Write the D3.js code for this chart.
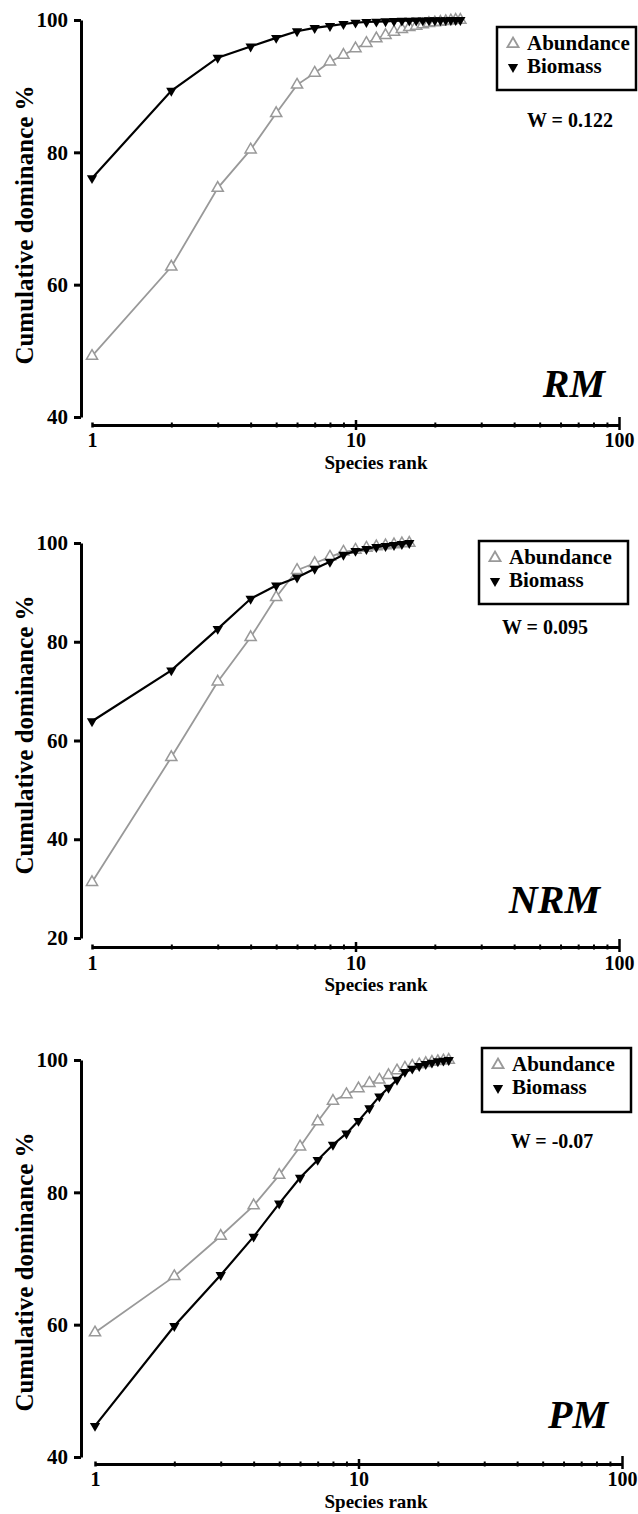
<!DOCTYPE html>
<html>
<head>
<meta charset="utf-8">
<script src="https://cdn.jsdelivr.net/npm/d3@7"></script>
<style>
  body { margin: 0; background: #fff; }
  svg { display: block; font-weight: bold; }
</style>
</head>
<body>
<svg id="chart" width="638" height="1514" font-family="'Liberation Serif', 'Times New Roman', serif"></svg>
<script>
  // cumulative dominance (%) by species rank
  const rmAbundance = [49.2, 62.7, 74.6, 80.4, 85.9, 90.2, 92.0, 93.7, 94.7, 95.7, 96.5, 97.2, 97.7,
                       98.2, 98.6, 98.9, 99.1, 99.3, 99.5, 99.6, 99.7, 99.8, 99.9, 100, 100];
  const rmBiomass = [76.1, 89.3, 94.3, 96.0, 97.3, 98.3, 98.8, 99.1, 99.4, 99.6, 99.7, 99.75, 99.8,
                     99.85, 99.9, 99.9, 99.92, 99.94, 99.95, 99.96, 99.97, 99.98, 99.99, 100, 100];

  const nrmAbundance = [31.3, 56.6, 71.9, 80.9, 89.0, 94.5, 95.9, 97.2, 98.2, 98.6, 99.0, 99.3, 99.5, 99.7, 99.9, 100];
  const nrmBiomass = [63.9, 74.2, 82.6, 88.7, 91.4, 93.0, 94.8, 96.2, 97.6, 98.4, 98.8, 99.2, 99.4, 99.6, 99.8, 100];

  const pmAbundance = [58.8, 67.3, 73.4, 78.0, 82.6, 86.9, 90.7, 93.8, 94.8, 95.7, 96.5, 97.0, 97.7,
                       98.4, 98.8, 99.1, 99.3, 99.5, 99.7, 99.8, 99.9, 100];
  const pmBiomass = [44.7, 59.8, 67.5, 73.3, 78.3, 82.2, 84.9, 87.2, 88.9, 90.8, 92.7, 94.5, 95.8,
                     97.0, 98.2, 98.7, 99.1, 99.4, 99.6, 99.8, 99.9, 100];

  const siteNames = ["RM", "NRM", "PM"];
  const wValues = ["W = 0.122", "W = 0.095", "W = -0.07"];
  const yMins = [40, 20, 40];
  const xTicks = [1, 2, 3, 4, 5, 6, 7, 8, 9, 10, 20, 30, 40, 50, 60, 70, 80, 90, 100];
  const xLabels = [1, 10, 100];

  // layout of each panel on the page
  const layout = [
    {top: 20, bottom: 417, axisY: 425, x0: 92, x1: 619, yAxisX: 81, box: [497, 27, 139, 63],
     w: [570, 127], label: [605, 397], titleY: 225, tickDy: 22, titleDy: 44},
    {top: 543, bottom: 938, axisY: 947, x0: 92, x1: 619, yAxisX: 81, box: [479, 541, 149, 63],
     w: [545, 634], label: [600, 913], titleY: 735, tickDy: 23, titleDy: 44},
    {top: 1060, bottom: 1457, axisY: 1464, x0: 95, x1: 622, yAxisX: 81, box: [482, 1048, 149, 64],
     w: [552, 1148], label: [608, 1428], titleY: 1272, tickDy: 22, titleDy: 44}
  ];
  const series = [[rmAbundance, rmBiomass], [nrmAbundance, nrmBiomass], [pmAbundance, pmBiomass]];

  const svg = d3.select("#chart");
  const grey = "#999";
  const upTri = d3.symbol(d3.symbolTriangle, 54);
  const downTri = d3.symbol(d3.symbolTriangle, 46);

  layout.forEach((p, i) => {
    const [abund, bio] = series[i];
    const g = svg.append("g");
    const x = d3.scaleLog().domain([1, 100]).range([p.x0, p.x1]);
    const y = d3.scaleLinear().domain([yMins[i], 100]).range([p.bottom, p.top]);

    // y axis
    const yg = g.append("g")
      .attr("transform", `translate(${p.yAxisX},0)`)
      .call(d3.axisLeft(y).tickValues(d3.range(yMins[i], 101, 20)).tickSize(7).tickSizeOuter(0).tickPadding(6))
      .attr("font-family", null).attr("font-size", 21);
    yg.select(".domain").attr("stroke-width", 3);
    yg.selectAll(".tick line").attr("stroke-width", 3);
    yg.selectAll(".tick text").attr("fill", "#000");

    // x axis (log), minor ticks between decades
    const xg = g.append("g")
      .attr("transform", `translate(0,${p.axisY})`)
      .call(d3.axisBottom(x).tickValues(xTicks).tickSizeOuter(0).tickFormat(""))
      .attr("font-family", null).attr("font-size", 20);
    xg.select(".domain").attr("stroke-width", 3);
    xg.selectAll(".tick line")
      .attr("stroke-width", d => xLabels.includes(d) ? 2.5 : 2)
      .attr("y1", d => d === 100 ? -8 : (d === 10 ? -5 : -2.5))
      .attr("y2", d => d === 1 ? 2.5 : (xLabels.includes(d) ? 5 : 2.5));
    xg.selectAll(".tick").filter(d => xLabels.includes(d)).select("text")
      .text(d => d).attr("y", p.tickDy).attr("dy", 0).attr("fill", "#000");

    g.append("text")
      .attr("x", 376).attr("y", p.axisY + p.titleDy)
      .attr("text-anchor", "middle").attr("font-size", 19)
      .text("Species rank");

    g.append("text")
      .attr("transform", `translate(33,${p.titleY}) rotate(-90)`)
      .attr("text-anchor", "middle").attr("font-size", 25)
      .text("Cumulative dominance %");

    // curves
    const line = d3.line().x((d, k) => x(k + 1)).y(d => y(d));
    g.append("path").datum(abund).attr("d", line)
      .attr("fill", "none").attr("stroke", grey).attr("stroke-width", 1.8);
    g.selectAll(".ab").data(abund).join("path").attr("class", "ab")
      .attr("d", upTri)
      .attr("transform", (d, k) => `translate(${x(k + 1)},${y(d)})`)
      .attr("fill", "#fff").attr("stroke", grey).attr("stroke-width", 1.5);

    g.append("path").datum(bio).attr("d", line)
      .attr("fill", "none").attr("stroke", "#000").attr("stroke-width", 2.2);
    g.selectAll(".bm").data(bio).join("path").attr("class", "bm")
      .attr("d", downTri)
      .attr("transform", (d, k) => `translate(${x(k + 1)},${y(d)}) rotate(180)`)
      .attr("fill", "#000");

    // legend
    const [bx, by, bw, bh] = p.box;
    g.append("rect").attr("x", bx).attr("y", by).attr("width", bw).attr("height", bh)
      .attr("fill", "#fff").attr("stroke", "#000").attr("stroke-width", 2.5);
    g.append("path").attr("d", upTri)
      .attr("transform", `translate(${bx + 16},${by + 17})`)
      .attr("fill", "#fff").attr("stroke", grey).attr("stroke-width", 1.8);
    g.append("path").attr("d", downTri)
      .attr("transform", `translate(${bx + 16},${by + 40}) rotate(180)`)
      .attr("fill", "#000");
    g.append("text").attr("x", bx + 30).attr("y", by + 23).attr("font-size", 21).text("Abundance");
    g.append("text").attr("x", bx + 30).attr("y", by + 46).attr("font-size", 21).text("Biomass");

    g.append("text").attr("x", p.w[0]).attr("y", p.w[1])
      .attr("text-anchor", "middle").attr("font-size", 20).text(wValues[i]);

    g.append("text").attr("x", p.label[0]).attr("y", p.label[1])
      .attr("text-anchor", "end").attr("font-size", 40).attr("font-style", "italic")
      .text(siteNames[i]);
  });
</script>
</body>
</html>
